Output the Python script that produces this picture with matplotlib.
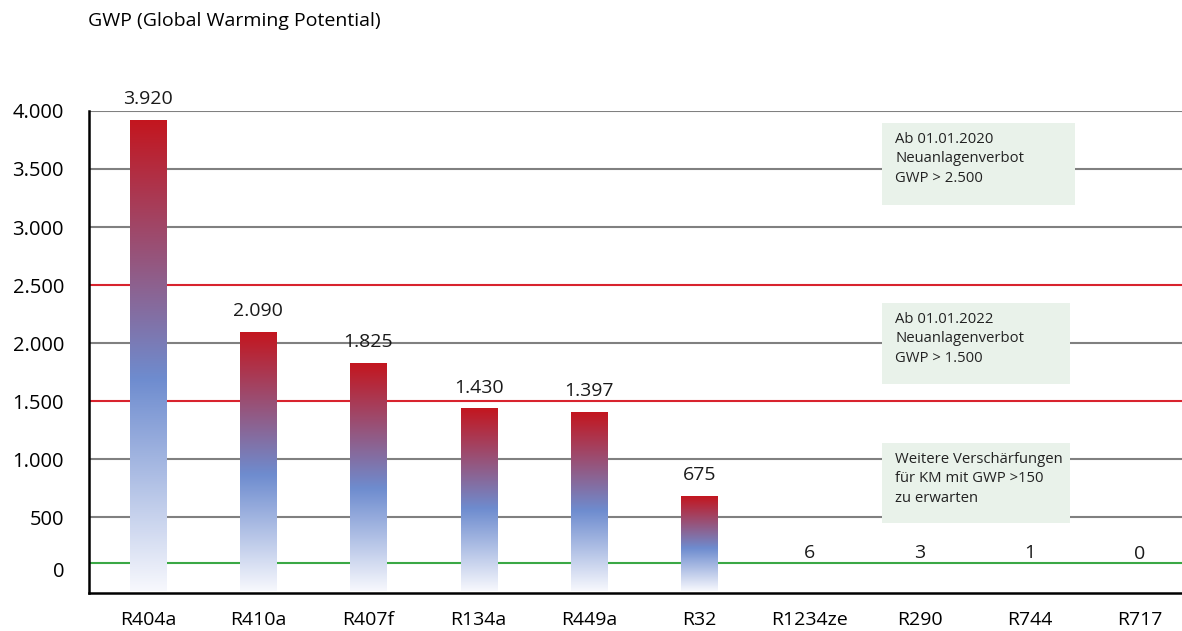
import numpy as np
import matplotlib.pyplot as plt
from matplotlib.colors import LinearSegmentedColormap
from matplotlib.patches import Rectangle

plt.rcParams['font.family'] = ['Open Sans', 'DejaVu Sans']

# data
refrigerants = ['R404a', 'R410a', 'R407f', 'R134a', 'R449a', 'R32', 'R1234ze', 'R290', 'R744', 'R717']
gwp = [3920, 2090, 1825, 1430, 1397, 675, 6, 3, 1, 0]
grid_values = [500, 1000, 1500, 2000, 2500, 3000, 3500, 4000]
limit_values = [1500, 2500]
green_line = 100
box_texts = [
    'Ab 01.01.2020\nNeuanlagenverbot\nGWP > 2.500',
    'Ab 01.01.2022\nNeuanlagenverbot\nGWP > 1.500',
    'Weitere Verschärfungen\nfür KM mit GWP >150\nzu erwarten',
]


def fmt(v):
    return f'{v:,}'.replace(',', '.')


fig = plt.figure(figsize=(11.82, 6.31), dpi=100)
ax = fig.add_axes([0.0753, 0.0602, 0.9247, 0.7639])
ax.set_xlim(-0.535, 9.38)
ax.set_ylim(-155, 4000)

# horizontal lines
for v in grid_values:
    col = '#d8232e' if v in limit_values else '#808080'
    ax.axhline(v, color=col, lw=1.5, zorder=1)
ax.axhline(green_line, color='#3aa845', lw=1.5, zorder=1)

# gradient bars
cmap = LinearSegmentedColormap.from_list(
    'gwp', [(0.0, '#f7f8fd'), (0.45, '#6e8ccf'), (1.0, '#c3161f')])
grad = np.linspace(0, 1, 256).reshape(-1, 1)
width = 0.327
bottom = -140
x = np.arange(len(refrigerants))
for xi, v in zip(x, gwp):
    if v > 50:
        ax.imshow(grad, cmap=cmap, origin='lower', aspect='auto',
                  extent=[xi - width / 2, xi + width / 2, bottom, v], zorder=2)
    ax.annotate(fmt(v), (xi, v), xytext=(0, 9), textcoords='offset points',
                ha='center', va='bottom', fontsize=14, color='#1a1a1a')

# info boxes
boxes = [(6.661, 3190, 1.751, 707), (6.661, 1647, 1.706, 698), (6.661, 448, 1.706, 690)]
for (bx, by, bw, bh), txt in zip(boxes, box_texts):
    ax.add_patch(Rectangle((bx, by), bw, bh, facecolor='#e9f2ea', edgecolor='none', zorder=3))
    ax.text(bx + 0.12, by + bh - 75, txt, ha='left', va='top', fontsize=10.7,
            color='#222222', linespacing=1.42, zorder=4)

ax.set_xticks(x)
ax.set_xticklabels(refrigerants, fontsize=14)
ax.set_yticks([45] + grid_values)
ax.set_yticklabels(['0'] + [fmt(v) for v in grid_values], fontsize=14.5)
ax.tick_params(length=0)
ax.tick_params(axis='y', pad=18)
ax.tick_params(axis='x', pad=13)
for s in ['top', 'right']:
    ax.spines[s].set_visible(False)
for s in ['left', 'bottom']:
    ax.spines[s].set_linewidth(1.8)
    ax.spines[s].set_zorder(5)

fig.text(0.0745, 0.966, 'GWP (Global Warming Potential)', fontsize=14, ha='left', va='center')

fig.savefig('out.png', dpi=100)
